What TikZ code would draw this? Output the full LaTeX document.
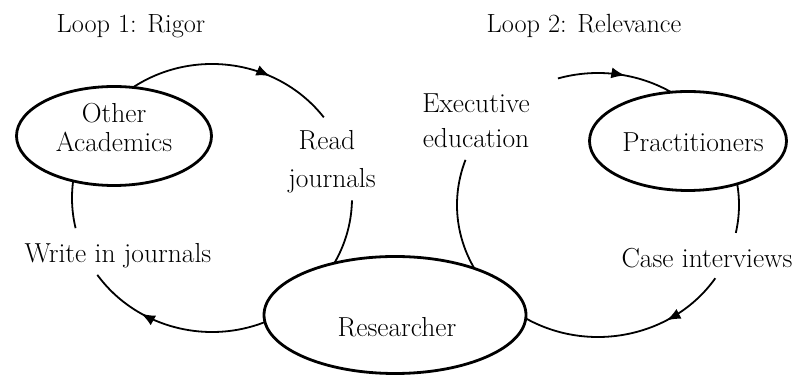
\documentclass[tikz,border=0pt]{standalone}
\usetikzlibrary{shapes.geometric,arrows.meta,decorations.markings}
\begin{document}
\begin{tikzpicture}[x=1pt,y=1pt,
  txt/.style={font=\fontsize{27.5}{33}\selectfont, inner sep=0pt, anchor=base},
  ttl/.style={font=\fontsize{26.3}{31}\selectfont, inner sep=0pt, anchor=base},
  oval/.style={ellipse, draw, line width=2.8pt, fill=white, inner sep=0pt},
  cyc/.style={line width=1.8pt},
  tipat/.style={postaction={decorate}, decoration={markings, mark=at position #1 with {\arrow{Latex[length=14pt,width=11pt]}}}}
]
\useasboundingbox (0,0) rectangle (798,382);
% loop centres
\coordinate (L1) at (212,184);
\coordinate (L2) at (598,177);
% loop 1 arcs
\draw[cyc, tipat=0.68] ([shift={(125:140pt and 134pt)}]L1) arc[start angle=125, end angle=37, x radius=140pt, y radius=134pt];
\draw[cyc] ([shift={(-1:140pt and 134pt)}]L1) arc[start angle=-1, end angle=-32, x radius=140pt, y radius=134pt];
\draw[cyc, tipat=0.7] ([shift={(-64:140pt and 134pt)}]L1) arc[start angle=-64, end angle=-145, x radius=140pt, y radius=134pt];
\draw[cyc] ([shift={(168:140pt and 134pt)}]L1) arc[start angle=168, end angle=193, x radius=140pt, y radius=134pt];
% loop 2 arcs
\draw[cyc, tipat=0.55] ([shift={(106.5:141pt and 132pt)}]L2) arc[start angle=106.5, end angle=56, x radius=141pt, y radius=132pt];
\draw[cyc] ([shift={(12:141pt and 132pt)}]L2) arc[start angle=12, end angle=-12.2, x radius=141pt, y radius=132pt];
\draw[cyc, tipat=0.3] ([shift={(-33.7:141pt and 132pt)}]L2) arc[start angle=-33.7, end angle=-123, x radius=141pt, y radius=132pt];
\draw[cyc] ([shift={(160:141pt and 132pt)}]L2) arc[start angle=160, end angle=211, x radius=141pt, y radius=132pt];
% ellipses
\node[oval, minimum width=195pt, minimum height=99pt] (oa) at (114,246) {};
\node[oval, minimum width=262pt, minimum height=117pt] (rs) at (395,67) {};
\node[oval, minimum width=197pt, minimum height=99pt] (pr) at (688,241) {};
% ellipse texts
\node[txt] (oa1) at (114,259) {Other};
\node[txt] (oa2) at (114,230) {Academics};
\node[txt] (rs1) at (397,45) {Researcher};
\node[txt] (pr1) at (693,230) {Practitioners};
% connector labels
\node[txt] (rj1) at (327,232) {Read};
\node[txt] (rj2) at (332,194) {journals};
\node[txt] (ee1) at (476,269) {Executive};
\node[txt] (ee2) at (476,234) {education};
\node[txt] (wj) at (118,119) {Write in journals};
\node[txt] (ci) at (707,114) {Case interviews};
% titles
\node[ttl] (t1) at (131,349) {Loop 1: Rigor};
\node[ttl] (t2) at (584,349) {Loop 2: Relevance};
\end{tikzpicture}
\end{document}
